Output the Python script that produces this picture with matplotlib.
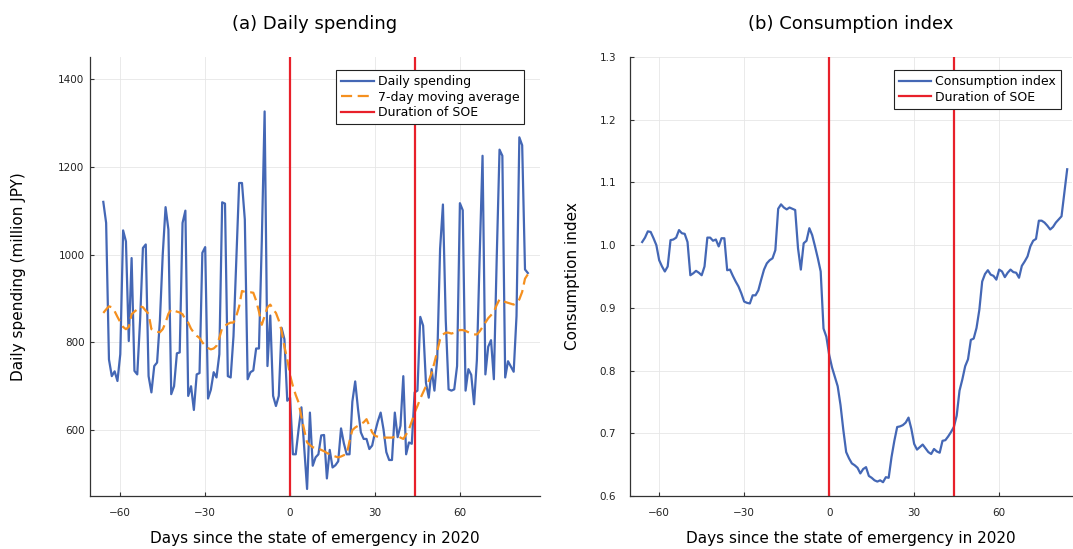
import numpy as np
import matplotlib
matplotlib.use("Agg")
from matplotlib import pyplot as plt

# days since the state of emergency (7 Apr 2020)
days = np.arange(-66, 85)
soe_start = 0
soe_end = 44

spending = [
    1120, 1072, 761, 723, 734, 712, 773, 1055, 1030, 803,   # -66..-57
    992, 735, 727, 850, 1015, 1023, 723, 686, 746, 754,     # -56..-47
    850, 1000, 1108, 1057, 682, 700, 775, 777, 1072, 1100,  # -46..-37
    678, 700, 646, 727, 730, 1004, 1017, 672, 692, 732,     # -36..-27
    720, 773, 1119, 1116, 723, 720, 814, 990, 1163, 1163,   # -26..-17
    1080, 716, 732, 736, 786, 786, 1030, 1326, 746, 861,    # -16..-7
    678, 655, 678, 833, 807, 667, 674, 545, 545, 602,       # -6..3
    652, 560, 466, 640, 519, 538, 545, 588, 589, 490,       # 4..13
    555, 515, 520, 529, 604, 570, 545, 545, 665, 711,       # 14..23
    648, 595, 580, 580, 557, 565, 595, 620, 640, 602,       # 24..33
    550, 532, 532, 640, 584, 610, 723, 545, 572, 569,       # 34..43
    686, 690, 858, 838, 708, 674, 739, 690, 765, 1013,      # 44..53
    1114, 850, 693, 690, 693, 746, 1117, 1101, 690, 739,    # 54..63
    726, 659, 760, 1000, 1225, 727, 790, 805, 716, 990,     # 64..73
    1239, 1225, 720, 757, 745, 733, 860, 1267, 1249, 966,   # 74..83
    958,                                                    # 84
]

moving_avg = [
    867, 875, 882, 880, 871, 858, 846, 835, 830, 835,
    864, 870, 875, 882, 880, 872, 865, 830, 826, 824,
    823, 830, 845, 865, 875, 872, 870, 868, 864, 852,
    845, 831, 822, 815, 810, 800, 792, 787, 784, 786,
    792, 810, 833, 838, 842, 845, 845, 860, 882, 917,
    915, 914, 914, 913, 895, 870, 840, 860, 880, 886,
    875, 867, 850, 826, 790, 761, 725, 700, 680, 663,
    630, 600, 572, 566, 561, 560, 558, 555, 552, 548,
    545, 542, 540, 538, 540, 543, 545, 575, 600, 606,
    610, 614, 618, 625, 610, 595, 587, 585, 583, 583,
    583, 583, 583, 585, 587, 583, 580, 590, 602, 620,
    640, 655, 672, 686, 700, 712, 730, 754, 780, 807,
    818, 822, 822, 820, 822, 826, 828, 828, 826, 823,
    820, 818, 818, 825, 835, 845, 855, 862, 870, 885,
    898, 896, 892, 890, 888, 886, 890, 898, 915, 945,
    955,
]

consumption = [
    1.005, 1.012, 1.022, 1.021, 1.011, 1.000, 0.976, 0.966, 0.958, 0.966,
    1.008, 1.009, 1.012, 1.024, 1.019, 1.018, 1.005, 0.952, 0.955, 0.959,
    0.956, 0.952, 0.966, 1.012, 1.012, 1.007, 1.009, 0.998, 1.011, 1.011,
    0.960, 0.961, 0.951, 0.942, 0.934, 0.923, 0.910, 0.908, 0.907, 0.920,
    0.920, 0.928, 0.945, 0.961, 0.971, 0.976, 0.979, 0.992, 1.058, 1.065,
    1.060, 1.057, 1.060, 1.058, 1.056, 0.995, 0.961, 1.003, 1.007, 1.027,
    1.016, 0.998, 0.979, 0.958, 0.867, 0.854, 0.825, 0.805, 0.790, 0.775,
    0.745, 0.705, 0.670, 0.660, 0.652, 0.649, 0.645, 0.636, 0.643, 0.646,
    0.632, 0.629, 0.625, 0.623, 0.625, 0.622, 0.630, 0.629, 0.662, 0.688,
    0.710, 0.711, 0.713, 0.717, 0.725, 0.707, 0.683, 0.674, 0.678, 0.682,
    0.676, 0.670, 0.667, 0.675, 0.671, 0.669, 0.688, 0.689, 0.695, 0.702,
    0.710, 0.728, 0.768, 0.786, 0.807, 0.818, 0.849, 0.851, 0.868, 0.897,
    0.942, 0.954, 0.960, 0.953, 0.951, 0.945, 0.961, 0.958, 0.949, 0.956,
    0.961, 0.957, 0.956, 0.948, 0.967, 0.974, 0.982, 0.998, 1.007, 1.010,
    1.039, 1.039, 1.036, 1.031, 1.025, 1.029, 1.036, 1.041, 1.046, 1.083,
    1.121,
]

x_ticks = [-60, -30, 0, 30, 60]
left_yticks = [600, 800, 1000, 1200, 1400]
right_yticks = [0.6, 0.7, 0.8, 0.9, 1.0, 1.1, 1.2, 1.3]

BLUE = "#4467b5"
ORANGE = "#f5901f"
RED = "#e8202a"
W, H = 1073, 549

plt.rcParams["font.family"] = "DejaVu Sans"
fig = plt.figure(figsize=(W / 100, H / 100), dpi=100)
ax1 = fig.add_axes([90 / W, 53 / H, 450 / W, 439 / H])
ax2 = fig.add_axes([630 / W, 53 / H, 442 / W, 439 / H])


def style(ax):
    ax.grid(True, color="#e6e6e6", linewidth=0.6)
    ax.set_axisbelow(True)
    for s in ("top", "right"):
        ax.spines[s].set_visible(False)
    for s in ("left", "bottom"):
        ax.spines[s].set_color("#333333")
        ax.spines[s].set_linewidth(0.9)
    ax.tick_params(direction="in", length=3, width=0.8, color="#333333",
                   labelsize=7.5, labelcolor="#222222")
    ax.tick_params(axis="x", pad=9)
    ax.set_xticks(x_ticks)
    ax.set_xlabel("Days since the state of emergency in 2020", fontsize=11, labelpad=9)


def add_legend(ax, anchor_x):
    leg = ax.legend(loc="upper right", bbox_to_anchor=(anchor_x, 0.97), fontsize=9,
                    frameon=True, fancybox=False, framealpha=1, edgecolor="#222222",
                    handlelength=2.6, handletextpad=0.3, borderpad=0.4,
                    labelspacing=0.2, borderaxespad=0)
    leg.get_frame().set_linewidth(0.8)


# (a) daily spending
ax1.plot(days, spending, color=BLUE, lw=1.6, label="Daily spending")
ax1.plot(days, moving_avg, color=ORANGE, lw=1.6, dashes=(5, 2.5), label="7-day moving average")
ax1.axvline(soe_start, color=RED, lw=1.6, label="Duration of SOE")
ax1.axvline(soe_end, color=RED, lw=1.6)
ax1.set_xlim(-70.7, 88.3)
ax1.set_ylim(450, 1450)
ax1.set_yticks(left_yticks)
style(ax1)
ax1.tick_params(axis="y", pad=4)
ax1.set_ylabel("Daily spending (million JPY)", fontsize=11, labelpad=23)
ax1.set_title("(a) Daily spending", fontsize=13, pad=20)
add_legend(ax1, 0.965)

# (b) consumption index
ax2.plot(days, consumption, color=BLUE, lw=1.6, label="Consumption index")
ax2.axvline(soe_start, color=RED, lw=1.6, label="Duration of SOE")
ax2.axvline(soe_end, color=RED, lw=1.6)
ax2.set_xlim(-70.3, 85.7)
ax2.set_ylim(0.6, 1.3)
ax2.set_yticks(right_yticks)
ax2.set_yticklabels([f"{v:.1f}" for v in right_yticks])
style(ax2)
ax2.tick_params(axis="y", pad=10)
ax2.set_ylabel("Consumption index", fontsize=11, labelpad=14)
ax2.set_title("(b) Consumption index", fontsize=13, pad=20)
add_legend(ax2, 0.975)

fig.savefig("out.png", dpi=100)
